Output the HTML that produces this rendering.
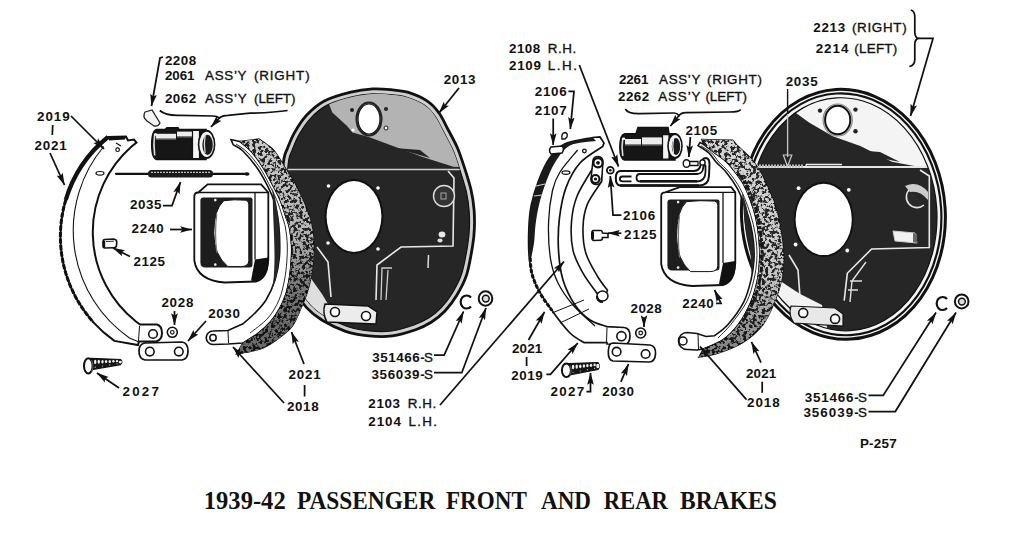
<!DOCTYPE html>
<html><head><meta charset="utf-8">
<style>
html,body{margin:0;padding:0;background:#fff;width:1015px;height:559px;overflow:hidden}
svg{display:block}
.lb{font-family:"Liberation Sans",sans-serif;font-weight:bold;font-size:13.4px;fill:#111}
.lr{font-family:"Liberation Sans",sans-serif;font-weight:normal;font-size:13.4px;fill:#111;stroke:#111;stroke-width:0.35}
.t{font-family:"Liberation Serif",serif;font-weight:bold;font-size:24.6px;fill:#111}
.ld{stroke:#111;stroke-width:1.75;fill:none}
</style></head><body>
<svg width="1015" height="559" viewBox="0 0 1015 559">
<defs>
<filter id="spk" x="0" y="0" width="100%" height="100%">
<feTurbulence type="fractalNoise" baseFrequency="0.32" numOctaves="3" seed="11" result="n"/>
<feColorMatrix in="n" type="matrix" values="0 0 0 0 0  0 0 0 0 0  0 0 0 0 0  0 0 0 8 -3.3" result="a"/>
<feComposite in="SourceGraphic" in2="a" operator="in"/>
</filter>
<linearGradient id="gdL" gradientUnits="userSpaceOnUse" x1="0" y1="150" x2="0" y2="340"><stop offset="0" stop-color="#000" stop-opacity="0.05"/><stop offset="0.45" stop-color="#000" stop-opacity="0.15"/><stop offset="0.75" stop-color="#000" stop-opacity="0.45"/><stop offset="1" stop-color="#000" stop-opacity="0.5"/></linearGradient>
<linearGradient id="gdR" gradientUnits="userSpaceOnUse" x1="0" y1="150" x2="0" y2="355"><stop offset="0" stop-color="#000" stop-opacity="0"/><stop offset="0.6" stop-color="#000" stop-opacity="0.05"/><stop offset="1" stop-color="#000" stop-opacity="0.4"/></linearGradient>
<marker id="ar" viewBox="0 0 14 10" refX="13.5" refY="5" markerWidth="7" markerHeight="5" orient="auto-start-reverse"><path d="M0,1.2 L14,5 L0,8.8 L2.5,5 z" fill="#111"/></marker>
</defs>
<rect width="1015" height="559" fill="#fff"/>

<!-- ============ LEFT BACKING PLATE 2013 ============ -->
<g id="plateL">
<path d="M372.7,88.9 C379.4,88.5 385.0,89.1 390.9,89.7 C396.7,90.3 401.6,90.4 407.6,92.2 C413.6,94.1 421.8,97.4 427.0,100.9 C432.2,104.3 435.3,108.0 438.9,112.8 C442.4,117.7 445.1,124.0 448.3,130.0 C451.4,135.9 455.0,142.1 457.7,148.5 C460.4,155.0 462.4,161.5 464.7,168.4 C466.9,175.4 469.6,183.4 471.1,190.3 C472.7,197.3 473.6,203.8 474.1,210.1 C474.6,216.4 474.6,222.0 474.4,227.9 C474.2,233.9 473.9,238.0 472.6,245.8 C471.3,253.5 469.3,266.3 466.7,274.6 C464.0,282.8 460.4,289.2 456.8,295.3 C453.2,301.4 449.2,306.5 445.0,311.0 C440.7,315.5 436.1,319.2 431.2,322.3 C426.4,325.4 422.1,327.4 415.6,329.7 C409.1,331.9 400.1,334.9 392.3,335.9 C384.5,337.0 376.7,336.7 368.9,335.9 C361.2,335.1 353.4,333.9 345.6,331.3 C337.9,328.7 328.7,324.2 322.2,320.3 C315.8,316.4 311.3,312.8 306.8,307.9 C302.3,303.1 298.6,297.7 295.2,291.3 C291.8,284.9 288.7,277.3 286.3,269.6 C283.9,261.8 282.0,253.9 280.9,244.8 C279.8,235.7 279.8,225.0 279.9,215.0 C280.0,205.1 280.7,194.4 281.4,185.1 C282.1,175.8 282.9,165.0 283.9,158.9 C284.9,152.8 285.6,152.9 287.4,148.5 C289.2,144.1 291.3,138.2 294.5,132.6 C297.7,127.0 301.8,120.2 306.8,115.0 C311.8,109.7 317.0,104.8 324.3,100.9 C331.7,97.1 342.8,94.1 350.8,92.1 C358.9,90.1 366.0,89.3 372.7,88.9 Z" fill="#cfcfcf" stroke="#111" stroke-width="2.8"/>
<path d="M373.0,93.9 C379.4,93.5 384.9,94.1 390.4,94.7 C395.9,95.2 400.5,95.3 406.1,97.0 C411.8,98.7 419.5,101.9 424.3,105.0 C429.1,108.2 431.6,111.2 434.8,115.8 C438.1,120.3 440.8,126.5 443.8,132.3 C446.9,138.1 450.4,144.2 453.1,150.5 C455.8,156.8 457.7,163.1 459.9,170.0 C462.1,176.8 464.7,184.6 466.3,191.4 C467.8,198.2 468.6,204.5 469.1,210.6 C469.6,216.6 469.6,222.0 469.4,227.7 C469.2,233.5 468.9,237.4 467.7,245.0 C466.4,252.5 464.4,265.1 461.9,273.0 C459.4,281.0 455.9,287.0 452.5,292.7 C449.1,298.5 445.3,303.4 441.3,307.6 C437.4,311.8 433.1,315.2 428.6,318.1 C424.0,321.0 420.1,322.8 414.0,325.0 C407.8,327.1 399.1,330.0 391.7,331.0 C384.2,332.0 376.8,331.7 369.4,330.9 C362.0,330.2 354.7,329.0 347.2,326.5 C339.8,324.0 330.9,319.7 324.8,316.0 C318.7,312.4 314.7,309.0 310.5,304.5 C306.3,300.0 302.9,295.1 299.6,289.0 C296.4,282.9 293.4,275.6 291.1,268.1 C288.8,260.7 286.9,253.1 285.9,244.2 C284.8,235.4 284.8,224.9 284.9,215.1 C285.0,205.3 285.7,194.7 286.4,185.5 C287.0,176.2 287.9,165.6 288.8,159.7 C289.8,153.9 290.4,154.5 292.0,150.4 C293.7,146.3 295.8,140.4 298.8,135.1 C301.9,129.8 305.8,123.3 310.5,118.4 C315.1,113.4 319.7,109.0 326.7,105.4 C333.6,101.8 344.3,98.8 352.0,96.9 C359.8,95.0 366.6,94.3 373.0,93.9 Z" fill="#262626" stroke="#111" stroke-width="1.2"/>
<clipPath id="cpL"><path d="M373.0,93.9 C379.4,93.5 384.9,94.1 390.4,94.7 C395.9,95.2 400.5,95.3 406.1,97.0 C411.8,98.7 419.5,101.9 424.3,105.0 C429.1,108.2 431.6,111.2 434.8,115.8 C438.1,120.3 440.8,126.5 443.8,132.3 C446.9,138.1 450.4,144.2 453.1,150.5 C455.8,156.8 457.7,163.1 459.9,170.0 C462.1,176.8 464.7,184.6 466.3,191.4 C467.8,198.2 468.6,204.5 469.1,210.6 C469.6,216.6 469.6,222.0 469.4,227.7 C469.2,233.5 468.9,237.4 467.7,245.0 C466.4,252.5 464.4,265.1 461.9,273.0 C459.4,281.0 455.9,287.0 452.5,292.7 C449.1,298.5 445.3,303.4 441.3,307.6 C437.4,311.8 433.1,315.2 428.6,318.1 C424.0,321.0 420.1,322.8 414.0,325.0 C407.8,327.1 399.1,330.0 391.7,331.0 C384.2,332.0 376.8,331.7 369.4,330.9 C362.0,330.2 354.7,329.0 347.2,326.5 C339.8,324.0 330.9,319.7 324.8,316.0 C318.7,312.4 314.7,309.0 310.5,304.5 C306.3,300.0 302.9,295.1 299.6,289.0 C296.4,282.9 293.4,275.6 291.1,268.1 C288.8,260.7 286.9,253.1 285.9,244.2 C284.8,235.4 284.8,224.9 284.9,215.1 C285.0,205.3 285.7,194.7 286.4,185.5 C287.0,176.2 287.9,165.6 288.8,159.7 C289.8,153.9 290.4,154.5 292.0,150.4 C293.7,146.3 295.8,140.4 298.8,135.1 C301.9,129.8 305.8,123.3 310.5,118.4 C315.1,113.4 319.7,109.0 326.7,105.4 C333.6,101.8 344.3,98.8 352.0,96.9 C359.8,95.0 366.6,94.3 373.0,93.9 Z"/></clipPath>
<g clip-path="url(#cpL)">
<path d="M326,80 L329,104 L332.3,112.4 L347.1,125.9 L352.5,132.6 L368.7,137.1 L421.9,156.8 L453.4,166.7 L480,168 L480,80 Z" fill="#b3b3b3"/>
<path d="M395,148 L420,150 L430,158 Z" fill="#222"/>
<line x1="280" y1="169.5" x2="470" y2="169.5" stroke="#cfcfcf" stroke-width="1.6"/>
<!-- lower-left lighter flange area -->
<path d="M292,250 L305,270 L322,294 L331.5,310 L338,322 L345,340 L280,340 L280,250 Z" fill="#dedede"/>
<!-- right light band -->

</g>
<!-- top hole -->
<ellipse cx="369" cy="119" rx="12.5" ry="16.5" fill="none" stroke="#222" stroke-width="2"/>
<ellipse cx="369" cy="119" rx="11" ry="15" fill="#fff" stroke="#111" stroke-width="1.2"/>
<circle cx="352" cy="110" r="2" fill="#222"/><circle cx="386" cy="109" r="2" fill="#222"/><circle cx="386" cy="128" r="2" fill="#fff" stroke="#222" stroke-width="1"/><circle cx="353" cy="130" r="1.6" fill="#fff"/>
<!-- centre hole -->
<ellipse cx="354" cy="216.5" rx="29.5" ry="37.5" fill="#111"/>
<ellipse cx="354" cy="216.5" rx="27.4" ry="35.4" fill="#fff"/>
<circle cx="328.5" cy="186" r="1.8" fill="#fff"/><circle cx="378" cy="188" r="1.8" fill="#fff"/><circle cx="328" cy="243" r="1.8" fill="#fff"/><circle cx="378" cy="249" r="1.8" fill="#fff"/>
<!-- raised panel outline -->
<path d="M317,247 L328,262 L331,297" stroke="#e8e8e8" stroke-width="1.6" fill="none"/>
<path d="M376,300 L377,265 L401,247 L453,246 L454,178 L448,171" stroke="#e8e8e8" stroke-width="1.6" fill="none"/>
<path d="M381,300 L382,268 L392,268" stroke="#cfcfcf" stroke-width="1.3" fill="none"/>
<path d="M386,300 L388,270" stroke="#cfcfcf" stroke-width="1.3" fill="none"/>
<!-- round boss -->
<circle cx="444" cy="196" r="10.5" fill="#333" stroke="#ddd" stroke-width="1.4"/>
<rect x="441" y="193" width="5" height="6" fill="none" stroke="#aaa" stroke-width="1"/>
<ellipse cx="442" cy="234.5" rx="3.4" ry="3" fill="#e8e8e8"/><ellipse cx="440" cy="240.5" rx="2.6" ry="2" fill="#ddd"/>
<line x1="428.5" y1="255" x2="428" y2="268" stroke="#ddd" stroke-width="1.5"/>
<!-- bottom anchor plate -->
<path d="M325,304 L368,306 L377,312 L376,324 L327,322 Q322,313 325,304 Z" fill="#ececec" stroke="#111" stroke-width="1.5"/>
<circle cx="335" cy="312" r="4.5" fill="#fff" stroke="#111" stroke-width="1.6"/>
<circle cx="366" cy="316" r="4.5" fill="#fff" stroke="#111" stroke-width="1.6"/>
</g>


<path d="M194.3,196.5 Q194.3,192.5 198.3,192.5 L207.6,184.3 L261.1,184.3 L268.3,192.5 L268.3,259.5 Q267.3,278.5 256.3,281.5 L224.65,282.5 Q197.3,280.5 194.3,260.5 Z" fill="#fff" stroke="#111" stroke-width="1.8"/>
<path d="M198.3,192.5 L255,192.5 L268.3,192.5" fill="none" stroke="#111" stroke-width="1.3"/>
<path d="M255,192.5 L255,259.5" fill="none" stroke="#111" stroke-width="1.3"/>
<path d="M255,259.5 L268.3,257.5 L268.3,265.5 Q267.3,278.5 256.3,281.5 L251,280.5 Z" fill="#111"/>
<path d="M203.4,197.6 L250.5,197.6 Q252.5,197.6 252.5,199.6 L252.5,264.6 Q252.5,267.6 249.5,267.6 L205.4,267.6 Q200.4,267.6 200.4,262.6 L200.4,200.6 Q200.4,197.6 203.4,197.6 Z" fill="#1d1d1d"/>
<path d="M223.8,200.7 Q234.3,199.2 245.8,200.2 Q248.8,200.7 248.8,204.7 L248.8,260.6 Q248.8,266.6 240.8,266.6 L227.8,266.6 Q213.8,254.60000000000002 213.8,233.15 Q213.8,209.7 223.8,200.7 Z" fill="#fff" stroke="#111" stroke-width="1"/>
<path d="M216.8,213.7 Q214.3,233.15 216.8,252.60000000000002" fill="none" stroke="#777" stroke-width="1.2"/>
<circle cx="215.3" cy="200.1" r="1.3" fill="#eee"/><circle cx="215.3" cy="264.6" r="1.3" fill="#eee"/>

<path d="M108,137 L126,136.5 L128,140.5 L134,139.5 L136.5,142.5 L131.6,146.5 A114.0,114.0 0 0 0 135.94,321.5 L140,324.5 L157,324.5 Q162,326 162,333 Q162,340 156,341.5 L139,341.5 L138,345 L114.41,340.9 A127.9,127.9 0 0 1 108,137 Z" fill="#fff" stroke="#111" stroke-width="2"/>
<path d="M108,137 A127.9,127.9 0 0 0 65.72,200" fill="none" stroke="#111" stroke-width="4.2"/>
<path d="M65.72,200 A127.9,127.9 0 0 0 93.18,322" fill="none" stroke="#111" stroke-width="3" stroke-dasharray="5 1.5"/>
<path d="M108,137 L126,136.5 L125,139.5 L109,140.5 Z" fill="#111"/>
<path d="M103.7,146.5 A131.0,131.0 0 0 0 129.44,338 L139,342" fill="none" stroke="#111" stroke-width="1.1"/>
<circle cx="117.6" cy="149.7" r="1.8" fill="#fff" stroke="#111" stroke-width="1.2"/>
<ellipse cx="100" cy="173.3" rx="4" ry="1.8" fill="#fff" stroke="#111" stroke-width="1.2"/>
<line x1="139.5" y1="326" x2="138.5" y2="341" stroke="#111" stroke-width="1"/>
<circle cx="153" cy="334" r="4.3" fill="#fff" stroke="#111" stroke-width="1.6"/>
<path d="M116,143 L121,146" stroke="#111" stroke-width="1.2"/>
<path d="M233.2,144.7 C234.8,145.8 239.0,147.2 242.9,151.0 C246.8,154.8 252.7,161.8 256.6,167.2 C260.5,172.6 263.4,177.9 266.2,183.3 C269.0,188.7 271.6,194.0 273.5,199.4 C275.4,204.8 276.5,209.6 277.5,215.5 C278.5,221.4 279.2,227.9 279.5,235.0 C279.8,242.1 280.1,250.5 279.3,258.0 C278.6,265.5 277.2,273.0 275.0,280.0 C272.8,287.0 269.5,294.3 266.0,300.0 C262.5,305.7 257.8,310.1 254.0,314.0 C250.2,317.9 244.8,322.1 243.0,323.7 L228,330.5 L213,331 A6.7,6.7 0 0 0 213,344.5 L228,344 L243,343 C245.5,341.4 253.4,337.1 258.0,333.5 C262.6,329.9 267.1,325.9 270.8,321.6 C274.5,317.4 277.5,312.6 280.0,308.0 C282.5,303.4 284.4,299.0 286.0,294.0 C287.6,289.0 288.6,283.3 289.5,278.0 C290.4,272.7 290.8,267.5 291.2,262.0 C291.6,256.5 291.9,250.7 291.6,245.0 C291.3,239.3 290.6,232.9 289.6,228.0 C288.6,223.1 287.1,220.3 285.5,215.5 C283.9,210.7 282.3,204.8 280.0,199.4 C277.7,194.0 274.7,188.7 271.9,183.3 C269.1,177.9 266.5,172.6 263.0,167.2 C259.5,161.8 254.9,155.3 251.0,151.0 C247.1,146.7 241.6,143.0 239.7,141.4 L231,139.5 Z" fill="#fff" stroke="#111" stroke-width="1.6"/>
<circle cx="213" cy="337.7" r="3.2" fill="#fff" stroke="#111" stroke-width="1.5"/>
<line x1="228" y1="331" x2="228.5" y2="343" stroke="#111" stroke-width="1"/>
<path d="M236.0,144.0 C237.8,145.3 243.1,148.1 247.0,152.0 C250.9,155.9 255.9,162.0 259.5,167.2 C263.1,172.4 265.7,177.9 268.5,183.3 C271.3,188.7 274.2,194.0 276.5,199.4 C278.8,204.8 280.5,210.7 282.0,215.5 C283.5,220.3 284.6,223.1 285.5,228.0 C286.4,232.9 287.1,239.3 287.3,245.0 C287.5,250.7 287.3,256.2 286.8,262.0 C286.3,267.8 285.8,273.7 284.5,280.0 C283.2,286.3 281.8,293.7 279.0,300.0 C276.2,306.3 272.8,312.5 268.0,318.0 C263.2,323.5 253.0,330.5 250.0,333.0" fill="none" stroke="#111" stroke-width="0.9"/>
<path d="M272.5,188.0 C273.0,190.0 274.6,195.4 275.5,200.0 C276.4,204.6 277.3,209.7 278.0,215.5 C278.7,221.3 279.3,227.9 279.5,235.0 C279.7,242.1 279.8,251.2 279.3,258.0 C278.8,264.8 277.7,270.7 276.5,276.0 C275.3,281.3 272.8,287.7 272.0,290.0 L272.0,290.0 C272.3,287.7 273.3,281.3 273.8,276.0 C274.2,270.7 274.5,264.8 274.5,258.0 C274.6,251.2 274.2,242.1 274.0,235.0 C273.8,227.9 273.4,221.3 273.2,215.5 C273.0,209.7 272.9,204.6 272.8,200.0 C272.6,195.4 272.5,190.0 272.5,188.0 Z" fill="#262626"/>
<path d="M259.0,139.0 C260.3,139.9 264.4,142.7 267.0,144.7 C269.6,146.7 271.4,147.2 274.3,151.0 C277.2,154.8 281.4,161.8 284.7,167.2 C288.0,172.6 291.4,177.9 294.4,183.3 C297.4,188.7 300.1,194.0 302.5,199.4 C304.9,204.8 307.2,210.4 308.9,215.5 C310.6,220.6 311.7,225.1 312.5,230.0 C313.3,234.9 313.6,240.0 313.7,245.0 C313.8,250.0 313.6,254.7 313.2,260.0 C312.8,265.3 312.0,271.5 311.0,277.0 C310.0,282.5 308.7,287.8 307.0,293.0 C305.3,298.2 303.4,302.5 301.0,308.0 C298.6,313.5 296.0,321.0 292.3,326.0 C288.6,331.0 283.6,334.4 279.0,338.0 C274.4,341.6 269.2,345.1 264.4,347.3 C259.6,349.6 254.7,350.4 250.0,351.5 C245.3,352.6 238.8,353.4 236.5,353.8 L243.0,343.0 C245.5,341.4 253.4,337.1 258.0,333.5 C262.6,329.9 267.1,325.9 270.8,321.6 C274.5,317.4 277.5,312.6 280.0,308.0 C282.5,303.4 284.4,299.0 286.0,294.0 C287.6,289.0 288.6,283.3 289.5,278.0 C290.4,272.7 290.8,267.5 291.2,262.0 C291.6,256.5 291.9,250.7 291.6,245.0 C291.3,239.3 290.6,232.9 289.6,228.0 C288.6,223.1 287.1,220.3 285.5,215.5 C283.9,210.7 282.3,204.8 280.0,199.4 C277.7,194.0 274.7,188.7 271.9,183.3 C269.1,177.9 266.5,172.6 263.0,167.2 C259.5,161.8 254.9,155.3 251.0,151.0 C247.1,146.7 241.6,143.0 239.7,141.4 Z" fill="#262626" stroke="#111" stroke-width="1.4"/>
<path d="M259.0,139.0 C260.3,139.9 264.4,142.7 267.0,144.7 C269.6,146.7 271.4,147.2 274.3,151.0 C277.2,154.8 281.4,161.8 284.7,167.2 C288.0,172.6 291.4,177.9 294.4,183.3 C297.4,188.7 300.1,194.0 302.5,199.4 C304.9,204.8 307.2,210.4 308.9,215.5 C310.6,220.6 311.7,225.1 312.5,230.0 C313.3,234.9 313.6,240.0 313.7,245.0 C313.8,250.0 313.6,254.7 313.2,260.0 C312.8,265.3 312.0,271.5 311.0,277.0 C310.0,282.5 308.7,287.8 307.0,293.0 C305.3,298.2 303.4,302.5 301.0,308.0 C298.6,313.5 296.0,321.0 292.3,326.0 C288.6,331.0 283.6,334.4 279.0,338.0 C274.4,341.6 269.2,345.1 264.4,347.3 C259.6,349.6 254.7,350.4 250.0,351.5 C245.3,352.6 238.8,353.4 236.5,353.8 L243.0,343.0 C245.5,341.4 253.4,337.1 258.0,333.5 C262.6,329.9 267.1,325.9 270.8,321.6 C274.5,317.4 277.5,312.6 280.0,308.0 C282.5,303.4 284.4,299.0 286.0,294.0 C287.6,289.0 288.6,283.3 289.5,278.0 C290.4,272.7 290.8,267.5 291.2,262.0 C291.6,256.5 291.9,250.7 291.6,245.0 C291.3,239.3 290.6,232.9 289.6,228.0 C288.6,223.1 287.1,220.3 285.5,215.5 C283.9,210.7 282.3,204.8 280.0,199.4 C277.7,194.0 274.7,188.7 271.9,183.3 C269.1,177.9 266.5,172.6 263.0,167.2 C259.5,161.8 254.9,155.3 251.0,151.0 C247.1,146.7 241.6,143.0 239.7,141.4 Z" fill="#d4d4d4" filter="url(#spk)"/>
<path d="M259.0,139.0 C260.3,139.9 264.4,142.7 267.0,144.7 C269.6,146.7 271.4,147.2 274.3,151.0 C277.2,154.8 281.4,161.8 284.7,167.2 C288.0,172.6 291.4,177.9 294.4,183.3 C297.4,188.7 300.1,194.0 302.5,199.4 C304.9,204.8 307.2,210.4 308.9,215.5 C310.6,220.6 311.7,225.1 312.5,230.0 C313.3,234.9 313.6,240.0 313.7,245.0 C313.8,250.0 313.6,254.7 313.2,260.0 C312.8,265.3 312.0,271.5 311.0,277.0 C310.0,282.5 308.7,287.8 307.0,293.0 C305.3,298.2 303.4,302.5 301.0,308.0 C298.6,313.5 296.0,321.0 292.3,326.0 C288.6,331.0 283.6,334.4 279.0,338.0 C274.4,341.6 269.2,345.1 264.4,347.3 C259.6,349.6 254.7,350.4 250.0,351.5 C245.3,352.6 238.8,353.4 236.5,353.8 L243.0,343.0 C245.5,341.4 253.4,337.1 258.0,333.5 C262.6,329.9 267.1,325.9 270.8,321.6 C274.5,317.4 277.5,312.6 280.0,308.0 C282.5,303.4 284.4,299.0 286.0,294.0 C287.6,289.0 288.6,283.3 289.5,278.0 C290.4,272.7 290.8,267.5 291.2,262.0 C291.6,256.5 291.9,250.7 291.6,245.0 C291.3,239.3 290.6,232.9 289.6,228.0 C288.6,223.1 287.1,220.3 285.5,215.5 C283.9,210.7 282.3,204.8 280.0,199.4 C277.7,194.0 274.7,188.7 271.9,183.3 C269.1,177.9 266.5,172.6 263.0,167.2 C259.5,161.8 254.9,155.3 251.0,151.0 C247.1,146.7 241.6,143.0 239.7,141.4 Z" fill="url(#gdL)"/>

<!-- bleeder 2208 -->
<path d="M145,112 L152,110 L160,123 Q158,127 154,126 L147,121 Q142,117 145,112 Z" fill="#f4f4f4" stroke="#222" stroke-width="1.3"/>
<!-- spring 2035 -->
<g id="spL">
<line x1="116" y1="173.8" x2="148" y2="173.8" stroke="#111" stroke-width="2.2" stroke-linecap="round"/>
<line x1="212" y1="173.8" x2="247" y2="173.8" stroke="#111" stroke-width="2.2" stroke-linecap="round"/>
<ellipse cx="247" cy="174" rx="2.5" ry="1.8" fill="#111"/>
<rect x="148" y="170" width="65" height="7.5" rx="3.5" fill="#1a1a1a"/>
<line x1="151" y1="172.3" x2="210" y2="172.3" stroke="#bbb" stroke-width="1.3" stroke-dasharray="2 1"/>
</g>
<!-- 2125 clip -->
<path d="M104.5,239.5 L113.5,239 Q116.8,239.3 116.8,242.5 L116.3,246.5 Q115.5,247.8 113,247.8 L105,248 Q103,248 103,245.5 L103,241.5 Q103,239.6 104.5,239.5 Z" fill="#fff" stroke="#111" stroke-width="1.6"/>
<path d="M104,240.5 L104,247.5" stroke="#111" stroke-width="2.4"/>
<path d="M106,241.5 L114,241.2" stroke="#111" stroke-width="0.9"/>
<!-- 2028 nut -->
<circle cx="172.3" cy="332.3" r="5" fill="#fff" stroke="#111" stroke-width="1.6"/>
<circle cx="172.3" cy="332.3" r="1.8" fill="none" stroke="#111" stroke-width="1.2"/>
<!-- 2030 link -->
<path d="M145,343 L182,342 Q188,343 188,351 Q188,359 182,360 L145,360 Q139,359 139,351 Q139,344 145,343 Z" fill="#fff" stroke="#111" stroke-width="1.7"/>
<circle cx="149.8" cy="351.6" r="4.3" fill="#fff" stroke="#111" stroke-width="1.6"/>
<circle cx="178.8" cy="351.6" r="4.3" fill="#fff" stroke="#111" stroke-width="1.6"/>

<g id="plateR">
<ellipse cx="843.4" cy="214.3" rx="101.9" ry="125" fill="#f4f4f4" stroke="#111" stroke-width="3" transform="rotate(-3.4 843.4 214.3)"/>
<ellipse cx="843.4" cy="214.3" rx="97.9" ry="121" fill="none" stroke="#111" stroke-width="2.2" transform="rotate(-3.4 843.4 214.3)"/>
<clipPath id="cpR"><ellipse cx="843.4" cy="214.3" rx="93.5" ry="116.6" transform="rotate(-3.4 843.4 214.3)"/></clipPath>
<g clip-path="url(#cpR)">
<rect x="740" y="80" width="220" height="270" fill="#262626"/>
<path d="M780,80 L790,108 L795.3,112.6 L809,122.4 L832.8,136.2 L860.3,146 L891.9,161.8 L923.4,167.8 L960,168 L960,80 Z" fill="#f4f4f4"/>
<path d="M855,150 L880,152 L900,162 L880,158 Z" fill="#262626"/>
<path d="M762,250 L781,281.5 L799.7,293.8 L822,305 L830,340 L740,340 Z" fill="#f2f2f2"/>
</g>
<ellipse cx="843.4" cy="214.3" rx="93.5" ry="116.6" fill="none" stroke="#111" stroke-width="1.2" transform="rotate(-3.4 843.4 214.3)"/>
<ellipse cx="837.7" cy="120" rx="14.6" ry="16" fill="none" stroke="#888" stroke-width="1.2"/>
<ellipse cx="837.7" cy="120" rx="12.6" ry="14.2" fill="#fff" stroke="#111" stroke-width="2"/>
<circle cx="820" cy="110.6" r="2.2" fill="#222"/>
<circle cx="855.5" cy="109.6" r="2.2" fill="#222"/>
<circle cx="855.5" cy="131.3" r="2.2" fill="#222"/>
<path d="M756,167 L927,167" stroke="#e6e6e6" stroke-width="1.8"/>
<path d="M756,166 L803,166" stroke="#bbb" stroke-width="3" stroke-dasharray="2 1"/>
<path d="M806,164.5 L842,164.5 M806,164.5 L806,168" stroke="#eee" stroke-width="1.3" fill="none"/>
<ellipse cx="823.7" cy="219.4" rx="30" ry="37.7" fill="#111"/>
<ellipse cx="823.7" cy="219.4" rx="28.1" ry="35.7" fill="#fff"/>
<circle cx="798.6" cy="188.2" r="1.9" fill="#fff"/>
<circle cx="848.8" cy="189.8" r="1.9" fill="#fff"/>
<circle cx="795.6" cy="244.5" r="1.9" fill="#fff"/>
<circle cx="847.3" cy="250.5" r="1.9" fill="#fff"/>
<path d="M789,255 L798,270 L800,297" stroke="#e8e8e8" stroke-width="1.6" fill="none"/>
<path d="M844.2,300.7 L847.3,273.3 L871.6,249 L929.3,247.5 L929.3,176 L920,170" stroke="#e8e8e8" stroke-width="1.6" fill="none"/>
<path d="M850,302 L852,281 L866,262 M850,281 L862,281 M848,290 L858,290" stroke="#e0e0e0" stroke-width="1.4" fill="none"/>
<path d="M910,189 A10.6,10.6 0 1 0 924,205" fill="#2a2a2a" stroke="#e6e6e6" stroke-width="1.6"/>
<path d="M905,186 Q918,180 928,192 L928,200 Q920,190 910,192 Z" fill="#ccc"/>
<path d="M893,231 L915,233 L917,243 L895,241 Z" fill="#f2f2f2" stroke="#ccc" stroke-width="1"/>
<path d="M913,233 L917,234 L917,243 L913,242 Z" fill="#666"/>
<path d="M791,306 L835,308 L843,314 L843,326 L794,323 Q788,315 791,306 Z" fill="#e8e8e8" stroke="#111" stroke-width="1.2"/>
<circle cx="803.2" cy="312.9" r="4.5" fill="#fff" stroke="#111" stroke-width="1.6"/>
<circle cx="835.1" cy="318.9" r="4.5" fill="#fff" stroke="#111" stroke-width="1.6"/>
</g>
<path d="M661.2,196.4 Q661.2,192.4 665.2,192.4 L679.7,187.2 L731.2,187.2 L735.3,192.4 L735.3,263 Q734.3,282 723.3,285 L692.1,286 Q664.2,284 661.2,264 Z" fill="#fff" stroke="#111" stroke-width="1.8"/>
<path d="M665.2,192.4 L723,192.4 L735.3,192.4" fill="none" stroke="#111" stroke-width="1.3"/>
<path d="M723,192.4 L723,263" fill="none" stroke="#111" stroke-width="1.3"/>
<path d="M723,263 L735.3,261 L735.3,269 Q734.3,282 723.3,285 L719,284 Z" fill="#111"/>
<path d="M670.4,199.6 L717.5,199.6 Q719.5,199.6 719.5,201.6 L719.5,267.6 Q719.5,270.6 716.5,270.6 L672.4,270.6 Q667.4,270.6 667.4,265.6 L667.4,202.6 Q667.4,199.6 670.4,199.6 Z" fill="#1d1d1d"/>
<path d="M686.6,201.6 Q700.2,200.1 714.8,201.1 Q717.8,201.6 717.8,205.6 L717.8,265.6 Q717.8,271.6 709.8,271.6 L690.6,271.6 Q676.6,259.6 676.6,236.10000000000002 Q676.6,210.6 686.6,201.6 Z" fill="#fff" stroke="#111" stroke-width="1"/>
<path d="M679.6,214.6 Q677.1,236.10000000000002 679.6,257.6" fill="none" stroke="#777" stroke-width="1.2"/>
<circle cx="678.1" cy="202.1" r="1.3" fill="#eee"/><circle cx="678.1" cy="267.6" r="1.3" fill="#eee"/>

<path d="M698.0,145.7 C699.8,146.9 705.8,150.2 708.8,152.9 C711.8,155.6 713.1,158.8 716.0,162.0 C718.9,165.2 722.4,167.6 726.0,172.0 C729.6,176.4 734.2,182.9 737.4,188.7 C740.6,194.5 742.8,200.6 745.0,206.6 C747.2,212.6 749.1,218.5 750.5,224.4 C751.9,230.3 752.9,236.1 753.5,242.0 C754.1,247.9 754.4,253.7 754.0,260.0 C753.6,266.3 752.7,273.0 751.0,280.0 C749.3,287.0 747.5,294.7 743.7,302.1 C739.9,309.5 732.9,318.9 728.0,324.5 C723.1,330.1 716.8,333.8 714.6,335.7 L706,336.5 L697,333.5 L687,332.5 A8.5,8.5 0 0 0 687,349.5 L697,350 L703.4,349 C706.7,347.5 717.1,344.1 723.0,340.0 C728.9,335.9 733.8,330.8 738.5,324.5 C743.2,318.2 747.8,309.4 751.0,302.0 C754.2,294.6 756.0,287.3 757.5,280.0 C759.0,272.7 759.5,265.0 759.8,258.0 C760.0,251.0 759.6,244.7 759.0,238.0 C758.4,231.3 757.4,224.3 756.0,218.0 C754.6,211.7 752.6,205.7 750.5,200.0 C748.4,194.3 745.7,188.2 743.5,184.0 C741.3,179.8 740.3,178.7 737.5,175.0 C734.7,171.3 730.5,165.7 726.7,162.0 C723.0,158.3 718.9,155.9 715.0,153.0 C711.1,150.1 705.5,145.8 703.6,144.4 L700,142.5 Z" fill="#fff" stroke="#111" stroke-width="1.6"/>
<path d="M700.8,145.7 C702.6,146.9 708.6,150.2 711.6,152.9 C714.6,155.6 715.9,158.8 718.8,162.0 C721.7,165.2 725.2,167.6 728.8,172.0 C732.4,176.4 737.0,182.9 740.2,188.7 C743.4,194.5 745.6,200.6 747.8,206.6 C750.0,212.6 751.9,218.5 753.3,224.4 C754.7,230.3 755.7,236.1 756.3,242.0 C756.9,247.9 757.2,253.7 756.8,260.0 C756.4,266.3 755.5,273.0 753.8,280.0 C752.1,287.0 750.3,294.7 746.5,302.1 C742.7,309.5 735.5,318.5 730.8,324.5 C726.0,330.5 720.1,335.8 718.0,338.0" fill="none" stroke="#111" stroke-width="0.9"/>
<circle cx="683" cy="341" r="4" fill="#fff" stroke="#111" stroke-width="1.5"/>
<line x1="698" y1="334" x2="698.5" y2="350" stroke="#111" stroke-width="1"/>
<path d="M742.0,192.0 C742.8,194.4 745.2,201.2 746.5,206.6 C747.8,212.0 748.9,218.8 750.0,224.4 C751.1,230.0 752.3,234.5 753.0,240.0 C753.7,245.5 754.2,251.6 754.0,257.4 C753.8,263.2 751.9,272.1 751.5,275.0 L751.5,275.0 C751.4,272.1 751.4,263.2 750.8,257.4 C750.1,251.6 748.8,245.5 747.8,240.0 C746.8,234.5 745.5,230.0 744.8,224.4 C744.0,218.8 743.7,212.0 743.3,206.6 C742.8,201.2 742.2,194.4 742.0,192.0 Z" fill="#262626"/>
<path d="M701.8,139.4 C706.9,139.6 727.5,140.2 732.6,140.3 L737.3,145.6 C739.3,147.5 745.8,153.1 749.2,156.8 C752.7,160.5 755.3,163.7 758.0,168.0 C760.7,172.3 763.2,178.0 765.5,182.7 C767.8,187.4 769.7,191.4 771.5,196.0 C773.3,200.6 775.0,204.1 776.5,210.0 C778.0,215.9 779.6,223.5 780.8,231.5 C782.0,239.5 783.5,249.9 783.6,258.0 C783.7,266.1 783.0,272.7 781.5,280.0 C780.0,287.3 777.6,294.6 774.5,302.0 C771.4,309.4 768.2,317.8 763.0,324.5 C757.8,331.2 750.7,337.5 743.0,342.4 C735.3,347.2 724.1,351.2 716.8,353.6 C709.5,356.0 702.0,356.4 699.0,357.0 L703.4,349.0 C706.7,347.5 717.1,344.1 723.0,340.0 C728.9,335.9 733.8,330.8 738.5,324.5 C743.2,318.2 747.8,309.4 751.0,302.0 C754.2,294.6 756.0,287.3 757.5,280.0 C759.0,272.7 759.5,265.0 759.8,258.0 C760.0,251.0 759.6,244.7 759.0,238.0 C758.4,231.3 757.4,224.3 756.0,218.0 C754.6,211.7 752.6,205.7 750.5,200.0 C748.4,194.3 745.7,188.2 743.5,184.0 C741.3,179.8 740.3,178.7 737.5,175.0 C734.7,171.3 730.5,165.7 726.7,162.0 C723.0,158.3 718.9,155.9 715.0,153.0 C711.1,150.1 705.5,145.8 703.6,144.4 Z" fill="#262626" stroke="#111" stroke-width="1.4"/>
<path d="M701.8,139.4 C706.9,139.6 727.5,140.2 732.6,140.3 L737.3,145.6 C739.3,147.5 745.8,153.1 749.2,156.8 C752.7,160.5 755.3,163.7 758.0,168.0 C760.7,172.3 763.2,178.0 765.5,182.7 C767.8,187.4 769.7,191.4 771.5,196.0 C773.3,200.6 775.0,204.1 776.5,210.0 C778.0,215.9 779.6,223.5 780.8,231.5 C782.0,239.5 783.5,249.9 783.6,258.0 C783.7,266.1 783.0,272.7 781.5,280.0 C780.0,287.3 777.6,294.6 774.5,302.0 C771.4,309.4 768.2,317.8 763.0,324.5 C757.8,331.2 750.7,337.5 743.0,342.4 C735.3,347.2 724.1,351.2 716.8,353.6 C709.5,356.0 702.0,356.4 699.0,357.0 L703.4,349.0 C706.7,347.5 717.1,344.1 723.0,340.0 C728.9,335.9 733.8,330.8 738.5,324.5 C743.2,318.2 747.8,309.4 751.0,302.0 C754.2,294.6 756.0,287.3 757.5,280.0 C759.0,272.7 759.5,265.0 759.8,258.0 C760.0,251.0 759.6,244.7 759.0,238.0 C758.4,231.3 757.4,224.3 756.0,218.0 C754.6,211.7 752.6,205.7 750.5,200.0 C748.4,194.3 745.7,188.2 743.5,184.0 C741.3,179.8 740.3,178.7 737.5,175.0 C734.7,171.3 730.5,165.7 726.7,162.0 C723.0,158.3 718.9,155.9 715.0,153.0 C711.1,150.1 705.5,145.8 703.6,144.4 Z" fill="#d4d4d4" filter="url(#spk)"/>
<path d="M701.8,139.4 C706.9,139.6 727.5,140.2 732.6,140.3 L737.3,145.6 C739.3,147.5 745.8,153.1 749.2,156.8 C752.7,160.5 755.3,163.7 758.0,168.0 C760.7,172.3 763.2,178.0 765.5,182.7 C767.8,187.4 769.7,191.4 771.5,196.0 C773.3,200.6 775.0,204.1 776.5,210.0 C778.0,215.9 779.6,223.5 780.8,231.5 C782.0,239.5 783.5,249.9 783.6,258.0 C783.7,266.1 783.0,272.7 781.5,280.0 C780.0,287.3 777.6,294.6 774.5,302.0 C771.4,309.4 768.2,317.8 763.0,324.5 C757.8,331.2 750.7,337.5 743.0,342.4 C735.3,347.2 724.1,351.2 716.8,353.6 C709.5,356.0 702.0,356.4 699.0,357.0 L703.4,349.0 C706.7,347.5 717.1,344.1 723.0,340.0 C728.9,335.9 733.8,330.8 738.5,324.5 C743.2,318.2 747.8,309.4 751.0,302.0 C754.2,294.6 756.0,287.3 757.5,280.0 C759.0,272.7 759.5,265.0 759.8,258.0 C760.0,251.0 759.6,244.7 759.0,238.0 C758.4,231.3 757.4,224.3 756.0,218.0 C754.6,211.7 752.6,205.7 750.5,200.0 C748.4,194.3 745.7,188.2 743.5,184.0 C741.3,179.8 740.3,178.7 737.5,175.0 C734.7,171.3 730.5,165.7 726.7,162.0 C723.0,158.3 718.9,155.9 715.0,153.0 C711.1,150.1 705.5,145.8 703.6,144.4 Z" fill="url(#gdR)"/>
<path d="M739.7,175.0 C740.7,176.5 743.5,179.8 745.7,184.0 C747.9,188.2 750.6,194.3 752.7,200.0 C754.8,205.7 756.8,211.7 758.2,218.0 C759.6,224.3 760.6,231.3 761.2,238.0 C761.8,244.7 762.2,251.0 762.0,258.0 C761.8,265.0 761.2,272.7 759.7,280.0 C758.2,287.3 756.4,294.6 753.2,302.0 C750.0,309.4 742.8,320.8 740.7,324.5" fill="none" stroke="#1a1a1a" stroke-width="3" stroke-dasharray="6 1.5 3 1.5"/>

<path d="M592.7,137.5 C588.1,138.6 572.1,140.5 565.0,143.8 C557.9,147.2 554.4,151.6 550.0,157.6 C545.6,163.6 541.9,172.1 538.8,180.0 C535.7,187.9 533.0,196.7 531.3,205.0 C529.6,213.3 529.1,220.8 528.8,230.0 C528.5,239.2 528.3,250.8 529.5,260.0 C530.7,269.2 532.2,276.6 536.0,285.0 C539.8,293.4 546.3,302.5 552.0,310.5 C557.7,318.5 564.6,327.6 570.0,333.0 C575.4,338.4 582.0,341.1 584.4,342.7 L607,342.7 L607,344 L624,344.5 Q630,344 630,336 Q630,328 624,327.5 L607.0,326.6 C604.2,325.5 595.3,323.6 590.0,320.0 C584.7,316.4 579.5,311.7 575.0,305.0 C570.5,298.3 565.8,289.2 563.0,280.0 C560.2,270.8 559.1,260.4 558.5,250.0 C557.9,239.6 558.2,228.1 559.5,217.7 C560.8,207.3 562.6,196.7 566.0,187.6 C569.4,178.5 573.9,169.8 580.0,163.0 C586.1,156.2 598.9,149.2 602.7,146.5 L604,143 L600,137 Z" fill="#fff" stroke="#111" stroke-width="1.7"/>
<path d="M592.7,137.5 C588.1,138.6 572.1,140.5 565.0,143.8 C557.9,147.2 554.4,151.6 550.0,157.6 C545.6,163.6 541.9,172.1 538.8,180.0 C535.7,187.9 533.0,196.7 531.3,205.0 C529.6,213.3 529.1,220.8 528.8,230.0 C528.5,239.2 529.4,255.0 529.5,260.0 L531.0,259.0 C531.5,256.3 533.2,248.7 534.0,243.0 C534.8,237.3 534.7,231.3 535.5,225.0 C536.3,218.7 537.4,211.7 539.0,205.0 C540.6,198.3 542.3,192.1 545.0,185.0 C547.7,177.9 550.8,169.2 555.0,162.6 C559.2,156.0 563.2,149.1 570.0,145.5 C576.8,141.9 591.7,141.8 596.0,141.0 Z" fill="#1a1a1a"/>
<path d="M536,186 L545,184 M534,196 L542,195" stroke="#ccc" stroke-width="1.2"/>
<path d="M530.2,258.0 C530.4,260.3 530.5,267.5 531.5,272.0 C532.5,276.5 534.1,280.7 536.0,285.0 C537.9,289.3 540.3,293.8 543.0,298.0 C545.7,302.2 550.5,308.4 552.0,310.5" stroke="#111" stroke-width="3" fill="none" stroke-dasharray="4 1.5"/>
<path d="M577.6,150.0 C574.7,153.7 564.2,165.3 560.0,172.0 C555.8,178.7 554.5,181.7 552.6,190.0 C550.7,198.3 549.0,210.1 548.6,221.6 C548.2,233.1 548.9,248.7 550.5,258.9 C552.1,269.1 554.2,275.3 558.0,283.0 C561.8,290.7 566.8,297.8 573.0,305.0 C579.2,312.2 591.3,322.5 595.0,326.0" stroke="#111" stroke-width="1.3" fill="none"/>
<path d="M584,300 L552,313 M589,309 L560,323" stroke="#111" stroke-width="1" fill="none"/>
<line x1="607" y1="327.5" x2="606.5" y2="342" stroke="#111" stroke-width="1"/>
<circle cx="621.4" cy="336.2" r="4.6" fill="#fff" stroke="#111" stroke-width="1.6"/>
<circle cx="584.4" cy="151" r="1.8" fill="#fff" stroke="#111" stroke-width="1.3"/>
<ellipse cx="566" cy="172.6" rx="4" ry="1.8" fill="#fff" stroke="#111" stroke-width="1.2"/>
<path d="M593.0,168.0 C590.4,172.6 580.8,186.9 577.2,195.8 C573.6,204.7 572.2,212.5 571.5,221.6 C570.8,230.7 571.1,241.7 573.0,250.3 C574.9,258.9 579.2,266.2 583.0,273.2 C586.8,280.1 593.8,288.9 596.0,292.0 A6.3,6.3 0 0 0 607.5,290.4 L607.5,290.4 C605.8,288.0 600.9,282.2 597.3,276.0 C593.7,269.8 588.2,261.1 585.8,253.0 C583.4,244.9 582.8,235.5 583.0,227.4 C583.2,219.3 584.2,212.1 587.3,204.4 C590.4,196.8 599.2,185.3 601.6,181.5 L602,165 Z" fill="#fff" stroke="#111" stroke-width="1.6"/>
<ellipse cx="602.5" cy="296" rx="5.5" ry="5" fill="#fff" stroke="#111" stroke-width="1.5"/>
<path d="M597,296 Q597,302 603,302" stroke="#111" stroke-width="2.2" fill="none"/>
<path d="M551,147 L562,146 Q565,149 562,153 L551,154 Q548,150.5 551,147 Z" fill="#fff" stroke="#111" stroke-width="1.5"/>
<path d="M562,139 Q561,133 565,132.5 Q568,133 567,137 L565,139 Z" fill="#fff" stroke="#111" stroke-width="1.4"/>
<path d="M620,171 L694,171 Q699.5,170.5 700.5,165.5 Q701.5,158 706,158 Q709.5,158.5 709.5,164 L709,176 Q708.5,185.5 699,185.5 L620,185.5 Q615.8,185 615.8,178.3 Q615.8,171.3 620,171 Z" fill="#fff" stroke="#111" stroke-width="2"/>
<path d="M640,174 L697,174 Q702.5,173.5 703,169 L703.5,166 Q704.5,164 705.5,166 L705.5,172 Q705,181.5 697,181.5 L640,181.5 Q636.5,181.5 636.5,177.8 Q636.5,174 640,174 Z" fill="#fff" stroke="#111" stroke-width="1.8"/>
<path d="M640,181.2 L697,181.2" stroke="#111" stroke-width="2.2"/>
<path d="M631.5,176.5 L622.5,176.5 Q619.8,176.8 619.8,179 Q619.8,181.2 622.5,181.4 L631.5,181.4" fill="none" stroke="#111" stroke-width="1.8"/>
<path d="M620,185.5 L699,185.5" stroke="#111" stroke-width="2.4"/>
<circle cx="702.5" cy="162.5" r="2.6" fill="#fff" stroke="#111" stroke-width="1.4"/>
<path d="M688,161.5 L698,161.5 L698,165.5 L688,165.5 Z" fill="#fff" stroke="#111" stroke-width="1.3"/>
<ellipse cx="686.5" cy="163.5" rx="3.3" ry="3.8" fill="#fff" stroke="#111" stroke-width="1.4"/>
<path d="M593,160 Q594,156.5 598,156.5 Q603,157 603,162 L601.5,181 Q600.5,184.5 596,184.5 Q591,184 591,179 Z" fill="#fff" stroke="#111" stroke-width="1.5"/>
<circle cx="598" cy="162.8" r="4.6" fill="#fff" stroke="#111" stroke-width="2.2"/><circle cx="598" cy="162.8" r="1.9" fill="#111"/>
<circle cx="595.5" cy="179" r="4" fill="#fff" stroke="#111" stroke-width="2.2"/><circle cx="595.5" cy="179" r="1.6" fill="#111"/>
<circle cx="610.3" cy="170.3" r="3.4" fill="#fff" stroke="#111" stroke-width="1.8"/><circle cx="610.3" cy="170.3" r="1.3" fill="#111"/>
<path d="M593.5,230.5 L601,230.5 Q602.5,231 602.5,233 L608,233.5 L608,237.5 L602.5,237.5 Q602.5,240.3 600.5,240.3 L593.5,240.5 Q591.8,240 591.8,237 L591.8,233.5 Q591.8,230.6 593.5,230.5 Z" fill="#fff" stroke="#111" stroke-width="1.6"/>
<path d="M592.8,231.5 L592.8,239.5" stroke="#111" stroke-width="2.4"/>
<circle cx="640.7" cy="333" r="5" fill="#fff" stroke="#111" stroke-width="1.6"/><circle cx="640.7" cy="333" r="1.8" fill="none" stroke="#111" stroke-width="1.2"/>
<path d="M613,343 L650,345 Q656,346 655.5,354 Q655,362 649,362 L613,361 Q608,360 608.3,351.5 Q608.5,343 613,343 Z" fill="#fff" stroke="#111" stroke-width="1.7"/>
<circle cx="616.6" cy="351.7" r="4.3" fill="#fff" stroke="#111" stroke-width="1.6"/>
<circle cx="645.6" cy="354" r="4.3" fill="#fff" stroke="#111" stroke-width="1.6"/>
<path d="M947,299 A6 6.5 0 1 0 947,308" fill="none" stroke="#111" stroke-width="2.2"/>
<ellipse cx="961.7" cy="301.4" rx="6.8" ry="7" fill="#fff" stroke="#111" stroke-width="2"/>
<circle cx="961.9" cy="301.6" r="3.4" fill="#ddd" stroke="#111" stroke-width="1.5"/>

<path d="M156.7,129.5 L165,129.5 L167,127.8 L178,127.8 L179,129.5 L206,129.5 L206,159.5 L156.7,159.5 Q151.7,158.5 151.7,144.5 Q151.7,130.5 156.7,129.5 Z" fill="#161616" stroke="#111" stroke-width="1.5"/>
<rect x="156" y="133.8" width="20" height="4.799999999999983" fill="#ececec"/>
<line x1="156" y1="139.2" x2="176" y2="139.2" stroke="#888" stroke-width="0.8"/>
<rect x="177" y="131.6" width="16" height="4.800000000000011" fill="#ececec"/>
<line x1="177" y1="137.0" x2="193" y2="137.0" stroke="#888" stroke-width="0.8"/>
<path d="M154.7,133.5 Q153.2,144.5 154.7,155.5" stroke="#ddd" stroke-width="1.6" fill="none"/>
<circle cx="155.7" cy="134.5" r="1.3" fill="#fff"/>
<path d="M192.5,130.3 L199.5,130.3 L199.5,158.7 L192.5,158.7 Z" fill="#f4f4f4" stroke="#111" stroke-width="1.2"/>
<ellipse cx="206.6" cy="144.4" rx="8.8" ry="14.6" fill="#111"/>
<ellipse cx="206.6" cy="144.4" rx="7.2" ry="12.6" fill="#f4f4f4"/>
<ellipse cx="207.6" cy="144.9" rx="5.2" ry="10.1" fill="#1a1a1a"/>
<path d="M205.1,135.8 Q203.6,144.4 205.1,153.0" stroke="#ddd" stroke-width="1.2" fill="none"/>
<path d="M624.8,133.8 L636,133.8 L638,127.5 L668,127.5 L669,133.8 L675,133.8 L675,160 L624.8,160 Q619.8,159 619.8,146.9 Q619.8,134.8 624.8,133.8 Z" fill="#161616" stroke="#111" stroke-width="1.5"/>
<rect x="625" y="139" width="16" height="5.5" fill="#ececec"/>
<line x1="625" y1="145.1" x2="641" y2="145.1" stroke="#888" stroke-width="0.8"/>
<rect x="642" y="137.4" width="20" height="7.099999999999994" fill="#ececec"/>
<line x1="642" y1="145.1" x2="662" y2="145.1" stroke="#888" stroke-width="0.8"/>
<path d="M622.8,137.8 Q621.3,146.9 622.8,156" stroke="#ddd" stroke-width="1.6" fill="none"/>
<circle cx="623.8" cy="138.8" r="1.3" fill="#fff"/>
<path d="M662.5,134.60000000000002 L669,134.60000000000002 L669,159.2 L662.5,159.2 Z" fill="#f4f4f4" stroke="#111" stroke-width="1.2"/>
<ellipse cx="675" cy="146" rx="7.800000000000001" ry="13" fill="#111"/>
<ellipse cx="675" cy="146" rx="6.2" ry="11" fill="#f4f4f4"/>
<ellipse cx="676" cy="146.5" rx="4.2" ry="8.5" fill="#1a1a1a"/>
<path d="M673.5,139 Q672,146 673.5,153" stroke="#ddd" stroke-width="1.2" fill="none"/>

<path d="M91,358.3 L120.5,359.5 Q123.3,362.05 120.5,364.6 L91,369.8 Z" fill="#151515" stroke="#111" stroke-width="1.2"/>
<ellipse cx="95.2" cy="361.9" rx="1.2" ry="2.2" fill="#f0f0f0"/>
<circle cx="95.2" cy="367.2" r="0.6" fill="#ccc"/>
<ellipse cx="98.8" cy="361.8" rx="1.2" ry="2.0" fill="#f0f0f0"/>
<ellipse cx="102.5" cy="361.7" rx="1.2" ry="1.8" fill="#f0f0f0"/>
<circle cx="102.5" cy="366.0" r="0.6" fill="#ccc"/>
<ellipse cx="106.1" cy="361.5" rx="1.2" ry="1.6" fill="#f0f0f0"/>
<ellipse cx="109.8" cy="361.4" rx="1.2" ry="1.5" fill="#f0f0f0"/>
<circle cx="109.8" cy="364.9" r="0.6" fill="#ccc"/>
<ellipse cx="113.4" cy="361.3" rx="1.2" ry="1.3" fill="#f0f0f0"/>
<ellipse cx="117.0" cy="361.2" rx="1.2" ry="1.1" fill="#f0f0f0"/>
<circle cx="117.0" cy="363.8" r="0.6" fill="#ccc"/>
<ellipse cx="120.3" cy="362.05" rx="1.6" ry="1.3500000000000114" fill="#eee"/>
<ellipse cx="88.3" cy="365.9" rx="4.3" ry="7.6" fill="#fff" stroke="#111" stroke-width="2"/>
<path d="M91.6,360.29999999999995 Q94.1,365.9 91.6,371.5" fill="none" stroke="#555" stroke-width="1.2"/>
<path d="M569,363.6 L598,362.6 Q600.8,366.05 598,369.5 L569,375 Z" fill="#151515" stroke="#111" stroke-width="1.2"/>
<ellipse cx="573.1" cy="367.0" rx="1.2" ry="2.2" fill="#f0f0f0"/>
<circle cx="573.1" cy="372.3" r="0.6" fill="#ccc"/>
<ellipse cx="576.7" cy="366.7" rx="1.2" ry="2.1" fill="#f0f0f0"/>
<ellipse cx="580.3" cy="366.3" rx="1.2" ry="1.9" fill="#f0f0f0"/>
<circle cx="580.3" cy="371.0" r="0.6" fill="#ccc"/>
<ellipse cx="583.9" cy="366.0" rx="1.2" ry="1.8" fill="#f0f0f0"/>
<ellipse cx="587.4" cy="365.6" rx="1.2" ry="1.7" fill="#f0f0f0"/>
<circle cx="587.4" cy="369.7" r="0.6" fill="#ccc"/>
<ellipse cx="591.0" cy="365.3" rx="1.2" ry="1.6" fill="#f0f0f0"/>
<ellipse cx="594.6" cy="364.9" rx="1.2" ry="1.4" fill="#f0f0f0"/>
<circle cx="594.6" cy="368.4" r="0.6" fill="#ccc"/>
<ellipse cx="597.8" cy="366.05" rx="1.6" ry="2.2499999999999885" fill="#eee"/>
<ellipse cx="566.4" cy="370.3" rx="4.5" ry="6.8" fill="#fff" stroke="#111" stroke-width="2"/>
<path d="M569.9,365.5 Q572.4,370.3 569.9,375.1" fill="none" stroke="#555" stroke-width="1.2"/>

<g class="ld">
<path d="M163,57 L160,58 L151.5,106" marker-end="url(#ar)"/>
<path d="M159.8,110.5 Q166,116 180,115.3 L213,116 Q217,116 219.4,118 Q222,115.5 228,115.3 L250,113.2 Q275,112.5 287.6,110.5"/>
<path d="M219.4,118 L211,127" marker-end="url(#ar)"/>
<path d="M459,88 L439,113" marker-end="url(#ar)"/>
<path d="M71,116 L104,149" marker-end="url(#ar)"/>
<path d="M52.7,125 L52.3,135"/>
<path d="M50,153 L64.5,185" marker-end="url(#ar)"/>
<path d="M163,205.5 L172,205.5 L180.5,182" marker-end="url(#ar)"/>
<path d="M170,229.5 L192,229.5" marker-end="url(#ar)"/>
<path d="M130,256.5 L113,248" marker-end="url(#ar)"/>
<path d="M174.5,311 L174.5,325" marker-end="url(#ar)"/>
<path d="M206,321 L188,341" marker-end="url(#ar)"/>
<path d="M119,388 L97,373" marker-end="url(#ar)"/>
<path d="M304,364 L291.5,332" marker-end="url(#ar)"/>
<path d="M304.6,385 L304.6,396.5"/>
<path d="M284,403 L233,347" marker-end="url(#ar)"/>
<path d="M434,355.2 L444.2,355.2 L463.5,311.5" marker-end="url(#ar)"/>
<path d="M434,372.7 L461.8,372.7 L486,308" marker-end="url(#ar)"/>
<path d="M440,405 L564,261.5" marker-end="url(#ar)"/>
</g>
<!-- washers -->
<path d="M471,297.5 A6 6.5 0 1 0 471,306.5" fill="none" stroke="#111" stroke-width="2.2"/>
<ellipse cx="485.5" cy="298.5" rx="6.8" ry="7.3" fill="#fff" stroke="#111" stroke-width="2"/>
<circle cx="485.8" cy="298.6" r="3.4" fill="#ddd" stroke="#111" stroke-width="1.5"/>

<g class="ld">
<path d="M579.3,65 L618.5,166.5" marker-end="url(#ar)"/>
<path d="M568.4,91.4 L574,91.4 L570.3,129" marker-end="url(#ar)"/>
<path d="M553.2,118.5 L553.2,145" marker-end="url(#ar)"/>
<path d="M625.3,109 Q628,114 640,113.6 L674,113 Q677,113 679,115.5 Q681,112.5 686,112.5 L730,112 Q739,112 740.8,109.5"/>
<path d="M679,115.5 L670.5,126" marker-end="url(#ar)"/>
<path d="M690.4,137 L688.8,157" marker-end="url(#ar)"/>
<path d="M910.8,10 Q914.8,11 914.8,17 L914.8,32 Q915,37.5 918,38.4 Q915,39.5 914.8,44 L914.8,60 Q914.5,65.5 909.3,66.5"/>
<path d="M918,38.4 L933,38.4 L910.5,116" marker-end="url(#ar)"/>
<path d="M621.4,215 L613,215 L610.3,176" marker-end="url(#ar)"/>
<path d="M621.4,233.2 L608,233.2" marker-end="url(#ar)"/>
<path d="M644,318 L644,327" marker-end="url(#ar)"/>
<path d="M620.9,381.9 L628.5,364" marker-end="url(#ar)"/>
<path d="M586.4,391.6 L590.5,391.6 L590.5,373" marker-end="url(#ar)"/>
<path d="M546.4,374.3 L550.5,374.3 L577.8,343" marker-end="url(#ar)"/>
<path d="M528.5,340 L544.5,312" marker-end="url(#ar)"/>
<path d="M526.6,357 L526.6,366"/>
<path d="M716,303.4 L721,303.4 L714.5,290" marker-end="url(#ar)"/>
<path d="M761,362.7 L751.5,342" marker-end="url(#ar)"/>
<path d="M762.2,381.7 L762.2,392.8"/>
<path d="M746.5,399.6 L700,346.5" marker-end="url(#ar)"/>
<path d="M868.5,395.4 L883.2,395.4 L936,312.5" marker-end="url(#ar)"/>
<path d="M868.5,411.5 L895.3,411.5 L956,312.5" marker-end="url(#ar)"/>
</g>
<path d="M787.6,89 L787.6,114" stroke="#111" stroke-width="1.4"/>
<path d="M787.6,114 L787.6,157" stroke="#c8c8c8" stroke-width="1.3"/>
<path d="M783.3,155 L787.6,166.5 L791.8,155 Z" fill="none" stroke="#c8c8c8" stroke-width="1.2"/>
<g class="l">
<text class="lb" x="164.9" y="64.5" textLength="31.2" lengthAdjust="spacing">2208</text>
<text class="lb" x="164.9" y="80.2" textLength="29.6" lengthAdjust="spacing">2061</text>
<text class="lr" x="205.1" y="80.2" textLength="41.4" lengthAdjust="spacing">ASS&#8217;Y</text>
<text class="lr" x="254.0" y="80.2" textLength="55.6" lengthAdjust="spacing">(RIGHT)</text>
<text class="lb" x="164.9" y="103" textLength="31.2" lengthAdjust="spacing">2062</text>
<text class="lr" x="205.1" y="103" textLength="41.5" lengthAdjust="spacing">ASS&#8217;Y</text>
<text class="lr" x="254.0" y="103" textLength="41.4" lengthAdjust="spacing">(LEFT)</text>
<text class="lb" x="443.8" y="84.2" textLength="31.6" lengthAdjust="spacing">2013</text>
<text class="lb" x="37.0" y="121" textLength="32.6" lengthAdjust="spacing">2019</text>
<text class="lb" x="34.4" y="150" textLength="32.2" lengthAdjust="spacing">2021</text>
<text class="lb" x="130.1" y="209.2" textLength="31.4" lengthAdjust="spacing">2035</text>
<text class="lb" x="131.5" y="233.4" textLength="32.1" lengthAdjust="spacing">2240</text>
<text class="lb" x="133.5" y="265.5" textLength="31.4" lengthAdjust="spacing">2125</text>
<text class="lb" x="161.4" y="307.4" textLength="32.1" lengthAdjust="spacing">2028</text>
<text class="lb" x="208.2" y="317.7" textLength="31.7" lengthAdjust="spacing">2030</text>
<text class="lb" x="122.5" y="395.8" textLength="36.4" lengthAdjust="spacing">2027</text>
<text class="lb" x="288.4" y="379" textLength="32.2" lengthAdjust="spacing">2021</text>
<text class="lb" x="287.0" y="411" textLength="31.6" lengthAdjust="spacing">2018</text>
<text class="lb" x="372.3" y="362" textLength="52.3" lengthAdjust="spacing">351466-</text>
<text class="lr" x="423.9" y="362" textLength="8.3" lengthAdjust="spacing">S</text>
<text class="lb" x="371.5" y="379" textLength="53.1" lengthAdjust="spacing">356039-</text>
<text class="lr" x="423.9" y="379" textLength="8.3" lengthAdjust="spacing">S</text>
<text class="lb" x="368.3" y="408" textLength="31.7" lengthAdjust="spacing">2103</text>
<text class="lr" x="407.7" y="408" textLength="28.6" lengthAdjust="spacing">R.H.</text>
<text class="lb" x="368.3" y="426.3" textLength="32.6" lengthAdjust="spacing">2104</text>
<text class="lr" x="408.5" y="426.3" textLength="28.6" lengthAdjust="spacing">L.H.</text>
<text class="lb" x="509.1" y="52.8" textLength="31.0" lengthAdjust="spacing">2108</text>
<text class="lr" x="547.7" y="52.8" textLength="28.6" lengthAdjust="spacing">R.H.</text>
<text class="lb" x="509.1" y="69.6" textLength="31.8" lengthAdjust="spacing">2109</text>
<text class="lr" x="547.7" y="69.6" textLength="29.4" lengthAdjust="spacing">L.H.</text>
<text class="lb" x="534.8" y="96.2" textLength="31.8" lengthAdjust="spacing">2106</text>
<text class="lb" x="534.8" y="114.7" textLength="31.8" lengthAdjust="spacing">2107</text>
<text class="lb" x="618.9" y="84" textLength="29.5" lengthAdjust="spacing">2261</text>
<text class="lr" x="659.1" y="84" textLength="41.3" lengthAdjust="spacing">ASS&#8217;Y</text>
<text class="lr" x="707.1" y="84" textLength="54.8" lengthAdjust="spacing">(RIGHT)</text>
<text class="lb" x="618.1" y="100.6" textLength="31.1" lengthAdjust="spacing">2262</text>
<text class="lr" x="658.3" y="100.6" textLength="42.1" lengthAdjust="spacing">ASS&#8217;Y</text>
<text class="lr" x="705.4" y="100.6" textLength="41.5" lengthAdjust="spacing">(LEFT)</text>
<text class="lb" x="685.4" y="135" textLength="31.7" lengthAdjust="spacing">2105</text>
<text class="lb" x="813.3" y="32.1" textLength="31.9" lengthAdjust="spacing">2213</text>
<text class="lr" x="851.9" y="32.1" textLength="54.8" lengthAdjust="spacing">(RIGHT)</text>
<text class="lb" x="815.7" y="52.6" textLength="32.7" lengthAdjust="spacing">2214</text>
<text class="lr" x="854.3" y="52.6" textLength="42.9" lengthAdjust="spacing">(LEFT)</text>
<text class="lb" x="785.7" y="85.7" textLength="31.9" lengthAdjust="spacing">2035</text>
<text class="lb" x="623.0" y="220.4" textLength="32.3" lengthAdjust="spacing">2106</text>
<text class="lb" x="624.1" y="238.6" textLength="32.3" lengthAdjust="spacing">2125</text>
<text class="lb" x="630.5" y="312.6" textLength="31.2" lengthAdjust="spacing">2028</text>
<text class="lb" x="512.0" y="353" textLength="30.2" lengthAdjust="spacing">2021</text>
<text class="lb" x="511.3" y="379.8" textLength="31.5" lengthAdjust="spacing">2019</text>
<text class="lb" x="550.6" y="396.4" textLength="33.6" lengthAdjust="spacing">2027</text>
<text class="lb" x="602.3" y="396.4" textLength="31.6" lengthAdjust="spacing">2030</text>
<text class="lb" x="682.2" y="308" textLength="31.4" lengthAdjust="spacing">2240</text>
<text class="lb" x="745.9" y="378.3" textLength="30.3" lengthAdjust="spacing">2021</text>
<text class="lb" x="747.1" y="407.4" textLength="32.5" lengthAdjust="spacing">2018</text>
<text class="lb" x="804.8" y="402" textLength="53.8" lengthAdjust="spacing">351466-</text>
<text class="lr" x="857.9" y="402" textLength="8.5" lengthAdjust="spacing">S</text>
<text class="lb" x="803.4" y="417" textLength="55.2" lengthAdjust="spacing">356039-</text>
<text class="lr" x="857.9" y="417" textLength="8.5" lengthAdjust="spacing">S</text>
<text class="lb" x="859.9" y="448" textLength="36.7" lengthAdjust="spacing">P-257</text>
</g>
<text class="t" x="203.8" y="509" textLength="81.9" lengthAdjust="spacingAndGlyphs">1939-42</text>
<text class="t" x="296.9" y="509" textLength="138.4" lengthAdjust="spacingAndGlyphs">PASSENGER</text>
<text class="t" x="446.0" y="509" textLength="80.8" lengthAdjust="spacingAndGlyphs">FRONT</text>
<text class="t" x="541.1" y="509" textLength="49.9" lengthAdjust="spacingAndGlyphs">AND</text>
<text class="t" x="603.7" y="509" textLength="64.3" lengthAdjust="spacingAndGlyphs">REAR</text>
<text class="t" x="680.1" y="509" textLength="96.6" lengthAdjust="spacingAndGlyphs">BRAKES</text>

</svg>
</body></html>
